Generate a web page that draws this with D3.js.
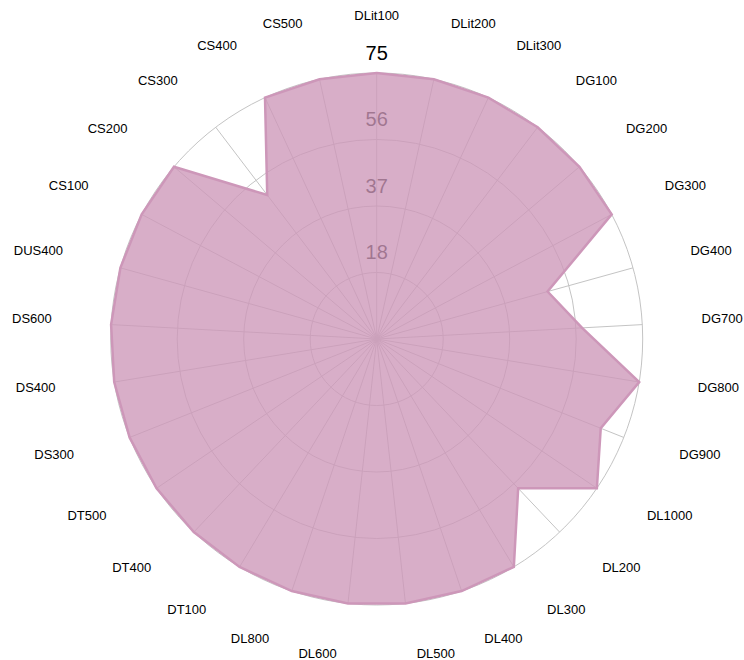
<!DOCTYPE html>
<html>
<head>
<meta charset="utf-8">
<script src="https://cdn.jsdelivr.net/npm/d3@7"></script>
<style>
  html, body { margin: 0; padding: 0; background: #ffffff; }
  svg { display: block; }
  text { font-family: "Liberation Sans", Arial, sans-serif; }
</style>
</head>
<body>
<svg id="chart" width="744" height="660"></svg>
<script>
const categories = ["DLit100","DLit200","DLit300","DG100","DG200","DG300","DG400","DG700","DG800","DG900",
  "DL1000","DL200","DL300","DL400","DL500","DL600","DL800","DT100","DT400","DT500",
  "DS300","DS400","DS600","DUS400","CS100","CS200","CS300","CS400","CS500"];
const values = [75,75,75,75,75,75,50,58,75,68,
  75,58,75,75,75,75,75,75,75,75,
  75,75,75,75,75,75,51,75,75];
const tickValues = [18.75, 37.5, 56.25, 75];
const tickLabels = ["18", "37", "56", "75"];
const maxValue = 75;

const W = 744, H = 660;
const cx = 376.7, cy = 339, R = 266;
const labelR = 320;

const svg = d3.select("#chart");
const g = svg.append("g").attr("transform", `translate(${cx},${cy})`);

const r = d3.scaleLinear().domain([0, maxValue]).range([0, R]);
const angle = d3.scaleLinear().domain([0, categories.length]).range([0, 2 * Math.PI]);

// grid rings
g.selectAll("circle.ring").data(tickValues).join("circle")
  .attr("class", "ring")
  .attr("r", d => r(d))
  .attr("fill", "none")
  .attr("stroke", "#c4c4c4")
  .attr("stroke-width", 1);

// spokes
g.selectAll("line.spoke").data(categories).join("line")
  .attr("class", "spoke")
  .attr("x1", 0).attr("y1", 0)
  .attr("x2", (d, i) => r(maxValue) * Math.sin(angle(i)))
  .attr("y2", (d, i) => -r(maxValue) * Math.cos(angle(i)))
  .attr("stroke", "#c4c4c4")
  .attr("stroke-width", 1);

// tick labels
g.selectAll("text.tick").data(tickValues).join("text")
  .attr("class", "tick")
  .attr("x", 0)
  .attr("y", d => -r(d) - 13.3)
  .attr("text-anchor", "middle")
  .attr("font-size", "20px")
  .attr("fill", "#000")
  .text((d, i) => tickLabels[i]);

// data polygon
const line = d3.lineRadial()
  .angle((d, i) => angle(i))
  .radius(d => r(d))
  .curve(d3.curveLinearClosed);

g.append("path")
  .datum(values)
  .attr("d", line)
  .attr("fill", "rgb(205,151,185)")
  .attr("fill-opacity", 0.78)
  .attr("stroke", "rgb(205,151,185)")
  .attr("stroke-width", 2.5)
  .attr("stroke-linejoin", "miter");

// category labels
g.selectAll("text.cat").data(categories).join("text")
  .attr("class", "cat")
  .attr("font-size", "13px")
  .attr("fill", "#000")
  .each(function(d, i) {
    const a = angle(i);
    const s = Math.sin(a), c = Math.cos(a);
    let anchor = "middle", off = 0;
    if (Math.abs(s) > 1e-6) {
      anchor = s > 0 ? "start" : "end";
      off = s > 0 ? 5.4 : -5.4;
    }
    d3.select(this)
      .attr("x", labelR * s + off)
      .attr("y", -labelR * c + 1.15)
      .attr("text-anchor", anchor)
      .text(d);
  });
</script>
</body>
</html>
